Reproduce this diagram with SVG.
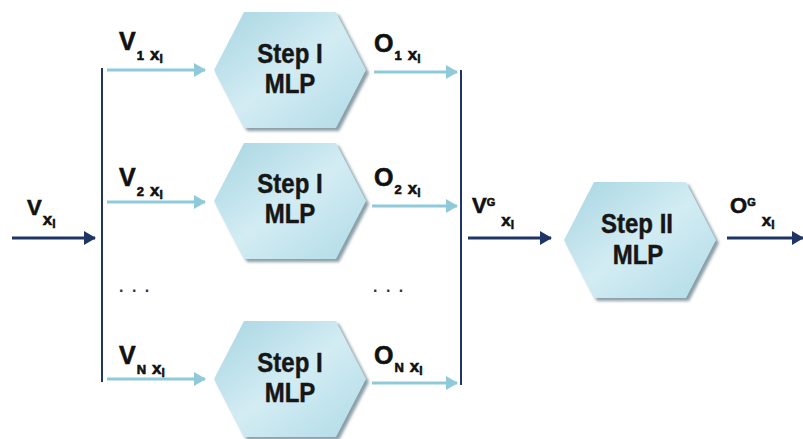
<svg xmlns="http://www.w3.org/2000/svg" width="803" height="439" viewBox="0 0 803 439">
<defs>
  <linearGradient id="hexfill" x1="0" y1="0" x2="1" y2="1">
    <stop offset="0" stop-color="#a6d5e2"/>
    <stop offset="0.5" stop-color="#d3ecf3"/>
    <stop offset="1" stop-color="#b0dbe7"/>
  </linearGradient>
  <filter id="shadow" x="-10%" y="-10%" width="130%" height="130%">
    <feGaussianBlur stdDeviation="1.5"/>
  </filter>
  <marker id="arrL" viewBox="0 0 12 14" refX="11" refY="7" markerWidth="12" markerHeight="14" markerUnits="userSpaceOnUse" orient="auto">
    <path d="M0,0 L12,7 L0,14 Z" fill="#8fcadb"/>
  </marker>
  <marker id="arrD" viewBox="0 0 12 14" refX="11" refY="7" markerWidth="12" markerHeight="14" markerUnits="userSpaceOnUse" orient="auto">
    <path d="M0,0 L12,7 L0,14 Z" fill="#1f3566"/>
  </marker>
  <polygon id="hex" points="-76,0 -46,-58 46,-58 76,0 46,58 -46,58"/>
</defs>
<style>
  .lt { stroke:#8fcadb; stroke-width:3; fill:none; marker-end:url(#arrL); }
  .dk { stroke:#1f3566; stroke-width:3; fill:none; marker-end:url(#arrD); }
  .bar { stroke:#1f3566; stroke-width:2; fill:none; }
  .hexs { fill:#8a9ea6; filter:url(#shadow); }
  .hexf { fill:url(#hexfill); }
  .nt { font-family:"Liberation Sans", Arial, sans-serif; font-weight:bold; font-size:24px; fill:#161616; stroke:#161616; stroke-width:0.4; text-anchor:middle; }
  .lb { font-family:"Liberation Sans", Arial, sans-serif; font-weight:bold; fill:#111; stroke:#111; stroke-width:0.6; }
  .big { font-size:25px; }
  .mid { font-size:22px; }
  .sub { font-size:13px; }
  .sup { font-size:11px; }
  .x { font-size:17px; }
  .i { font-size:12px; }
  .dots { font-family:"Liberation Sans", Arial, sans-serif; font-size:16px; font-weight:bold; fill:#333; letter-spacing:2px; }
</style>
<g id="connectors">
  <line class="dk" x1="12" y1="238" x2="95" y2="238"/>
  <line class="bar" x1="102" y1="68" x2="102" y2="382"/>
  <line class="lt" x1="107" y1="70" x2="205" y2="70"/>
  <line class="lt" x1="107" y1="202" x2="205" y2="202"/>
  <line class="lt" x1="107" y1="379" x2="205" y2="379"/>
  <line class="lt" x1="374" y1="72" x2="457" y2="72"/>
  <line class="lt" x1="372" y1="206" x2="457" y2="206"/>
  <line class="lt" x1="372" y1="383" x2="457" y2="383"/>
  <line class="bar" x1="461" y1="70" x2="461" y2="385"/>
  <line class="dk" x1="468" y1="238" x2="551" y2="238"/>
  <line class="dk" x1="727" y1="238" x2="803" y2="238"/>
</g>
<g id="mlp1">
  <use href="#hex" class="hexs" transform="translate(293,73)"/>
  <use href="#hex" class="hexf" transform="translate(290,70)"/>
  <text class="nt" transform="translate(290,63) scale(1,1.12)">Step I</text>
  <text class="nt" transform="translate(290,93) scale(1,1.12)">MLP</text>
</g>
<g id="mlp2">
  <use href="#hex" class="hexs" transform="translate(293,204)"/>
  <use href="#hex" class="hexf" transform="translate(290,201)"/>
  <text class="nt" transform="translate(290,193) scale(1,1.12)">Step I</text>
  <text class="nt" transform="translate(290,223) scale(1,1.12)">MLP</text>
</g>
<g id="mlpN">
  <use href="#hex" class="hexs" transform="translate(293,382)"/>
  <use href="#hex" class="hexf" transform="translate(290,379)"/>
  <text class="nt" transform="translate(290,372) scale(1,1.12)">Step I</text>
  <text class="nt" transform="translate(290,402) scale(1,1.12)">MLP</text>
</g>
<g id="mlp2step">
  <use href="#hex" class="hexs" transform="translate(643,243)"/>
  <use href="#hex" class="hexf" transform="translate(640,240)"/>
  <text class="nt" transform="translate(637,233) scale(1,1.12)">Step II</text>
  <text class="nt" transform="translate(638,264) scale(1,1.12)">MLP</text>
</g>
<g id="labels">
  <text class="lb" x="27" y="215"><tspan class="mid">V</tspan><tspan class="x" dx="1" dy="10">x</tspan><tspan class="i" dy="3">i</tspan></text>
  <text class="lb" x="119" y="50"><tspan class="big">V</tspan><tspan class="sub" dx="1" dy="10">1</tspan><tspan class="x" dx="6">x</tspan><tspan class="i" dy="3">i</tspan></text>
  <text class="lb" x="119" y="186"><tspan class="big">V</tspan><tspan class="sub" dx="1" dy="10">2</tspan><tspan class="x" dx="6">x</tspan><tspan class="i" dy="3">i</tspan></text>
  <text class="lb" x="119" y="364"><tspan class="big">V</tspan><tspan class="sub" dx="1" dy="10">N</tspan><tspan class="x" dx="6">x</tspan><tspan class="i" dy="3">i</tspan></text>
  <text class="lb" x="374" y="52"><tspan class="big">O</tspan><tspan class="sub" dx="1" dy="8">1</tspan><tspan class="x" dx="6">x</tspan><tspan class="i" dy="3">i</tspan></text>
  <text class="lb" x="374" y="186"><tspan class="big">O</tspan><tspan class="sub" dx="1" dy="8">2</tspan><tspan class="x" dx="6">x</tspan><tspan class="i" dy="3">i</tspan></text>
  <text class="lb" x="374" y="364"><tspan class="big">O</tspan><tspan class="sub" dx="1" dy="8">N</tspan><tspan class="x" dx="6">x</tspan><tspan class="i" dy="3">i</tspan></text>
  <text class="lb" x="472" y="213"><tspan class="mid">V</tspan><tspan class="sup" dy="-7">G</tspan><tspan class="x" dx="6" dy="20">x</tspan><tspan class="i" dy="3">i</tspan></text>
  <text class="lb" x="730" y="213"><tspan class="mid">O</tspan><tspan class="sup" dy="-7">G</tspan><tspan class="x" dx="6" dy="20">x</tspan><tspan class="i" dy="3">i</tspan></text>
  <text class="dots" x="119" y="292">. . .</text>
  <text class="dots" x="373" y="292">. . .</text>
</g>
</svg>
